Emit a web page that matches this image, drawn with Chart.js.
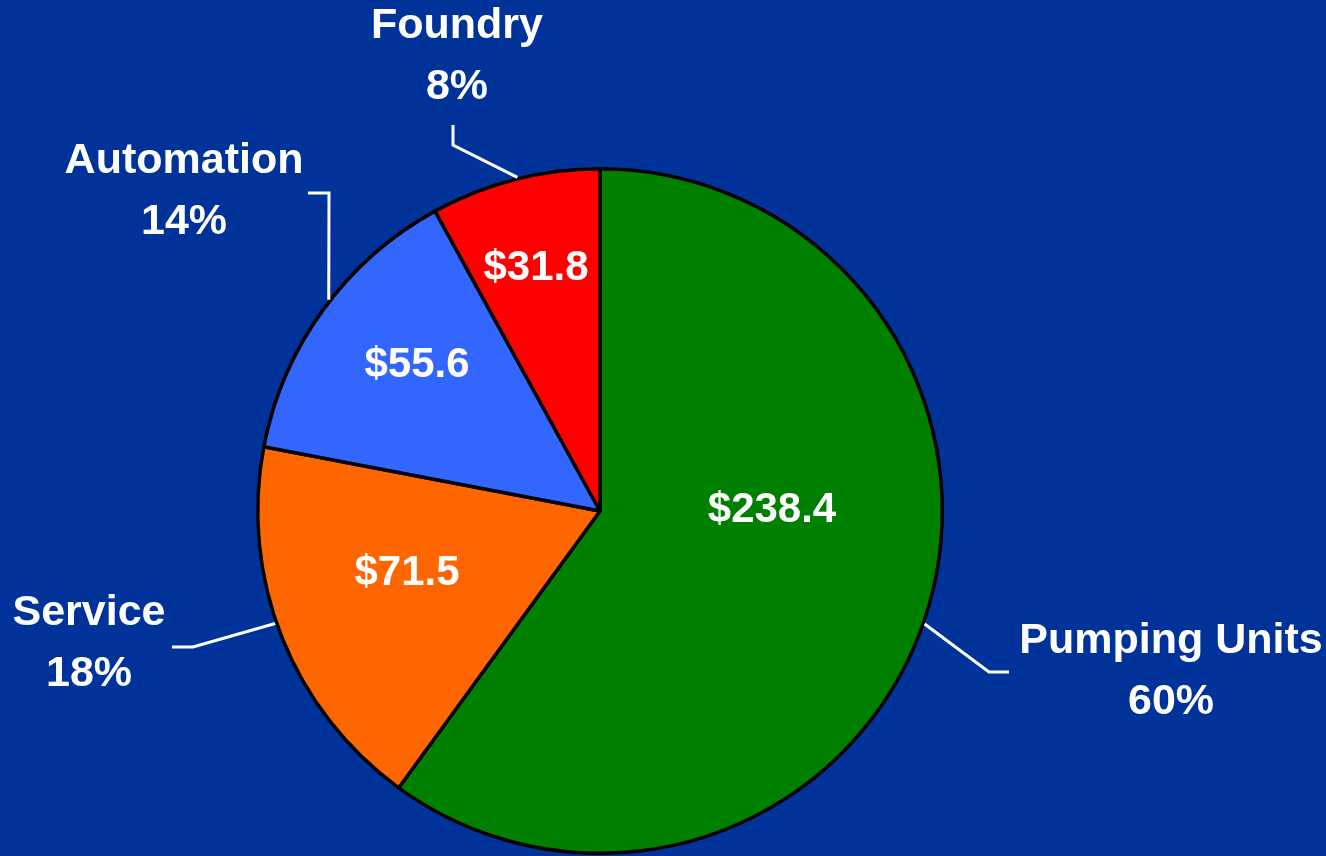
<!DOCTYPE html>
<html>
<head>
<meta charset="utf-8">
<title>Segment sales</title>
<script src="https://cdn.jsdelivr.net/npm/chart.js@4.4.1/dist/chart.umd.min.js"></script>
<style>
    html, body { margin: 0; padding: 0; background: #003399; }
    canvas { display: block; }
</style>
</head>
<body>
<canvas id="pieChart" width="1326" height="856"></canvas>
<script>
// Data
const segments = ['Pumping Units', 'Service', 'Automation', 'Foundry'];
const sales = [238.4, 71.5, 55.6, 31.8];
const sliceColors = ['#008000', '#FF6600', '#3366FF', '#FF0000'];

// Label layout, offsets from pie centre (px) and leader start angles (deg)
const valueLabelOffsets = [[172, 11], [-193, 74], [-183, -134], [-64, -231]];
const nameLabelOffsets = [[571, 142], [-511, 114], [-416, -338], [-143, -473]];
const leaderStartAngles = [19.2, 160.9, 217.9, 256.1];
const leaderElbows = [[389, 161], [-407, 136], [-271, -318], [-147, -366]];
const leaderEnds = [[409, 161], [-428, 136], [-292, -318], [-147, -386]];

const VALUE_FONT = 'bold 42px "Liberation Sans", Arial, sans-serif';
const NAME_FONT = 'bold 43px "Liberation Sans", Arial, sans-serif';
const LINE_GAP = 61;

const labelPlugin = {
    id: 'pieLabels',
    afterDraw(chart) {
        const ctx = chart.ctx;
        const arcs = chart.getDatasetMeta(0).data;
        const total = sales.reduce((a, b) => a + b, 0);

        ctx.save();
        ctx.fillStyle = '#FFFFFF';
        ctx.strokeStyle = '#FFFFFF';
        ctx.textAlign = 'center';
        ctx.textBaseline = 'alphabetic';

        arcs.forEach((arc, i) => {
            const { x, y, outerRadius } = arc.getProps(['x', 'y', 'outerRadius'], true);

            // value inside the slice
            ctx.font = VALUE_FONT;
            ctx.fillText('$' + sales[i].toFixed(1), x + valueLabelOffsets[i][0], y + valueLabelOffsets[i][1]);

            // leader line
            const a = leaderStartAngles[i] * Math.PI / 180;
            const r = outerRadius + 1.5;
            ctx.lineWidth = 3;
            ctx.lineJoin = 'miter';
            ctx.beginPath();
            ctx.moveTo(x + Math.cos(a) * r, y + Math.sin(a) * r);
            ctx.lineTo(x + leaderElbows[i][0], y + leaderElbows[i][1]);
            ctx.lineTo(x + leaderEnds[i][0], y + leaderEnds[i][1]);
            ctx.stroke();

            // name + percent outside
            const pct = Math.round(sales[i] / total * 100) + '%';
            const lx = x + nameLabelOffsets[i][0];
            const ly = y + nameLabelOffsets[i][1];
            ctx.font = NAME_FONT;
            ctx.fillText(segments[i], lx, ly);
            ctx.fillText(pct, lx, ly + LINE_GAP);
        });
        ctx.restore();
    }
};

new Chart(document.getElementById('pieChart'), {
    type: 'pie',
    data: {
        labels: segments,
        datasets: [{
            data: sales,
            backgroundColor: sliceColors,
            borderColor: '#000000',
            borderWidth: 3.5,
            borderAlign: 'center'
        }]
    },
    options: {
        responsive: false,
        devicePixelRatio: 1,
        animation: false,
        layout: {
            padding: { left: 256, right: 382, top: 167, bottom: 1 }
        },
        plugins: {
            legend: { display: false },
            tooltip: { enabled: false }
        }
    },
    plugins: [labelPlugin]
});
</script>
</body>
</html>
